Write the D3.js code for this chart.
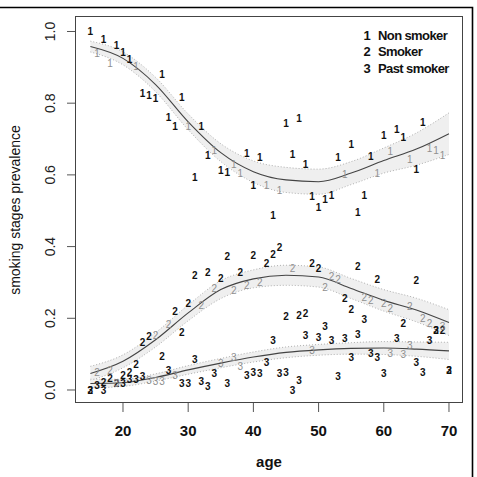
<!DOCTYPE html>
<html><head><meta charset="utf-8">
<script src="https://cdn.jsdelivr.net/npm/d3@7"></script>
<style>body{margin:0;background:#fff}svg{display:block}text{font-family:"Liberation Sans",Arial,sans-serif}</style>
</head><body><svg id="c" width="477" height="477"></svg>
<script>
// ---- data ----
const xTicks = [20,30,40,50,60,70];
const yTicks = [0.0,0.2,0.4,0.6,0.8,1.0];
const yTickLabels = ["0.0","0.2","0.4","0.6","0.8","1.0"];
const legendLabels = ["Non smoker","Smoker","Past smoker"];
const fitAges = [15,20,25,30,35,40,45,50,55,60,65,70];
const fitNon   = [0.958,0.925,0.852,0.748,0.662,0.609,0.586,0.581,0.605,0.640,0.672,0.715];
const bandNon  = [0.015,0.018,0.020,0.022,0.025,0.030,0.035,0.035,0.032,0.035,0.045,0.058];
const fitSmk   = [0.046,0.080,0.140,0.215,0.280,0.310,0.320,0.315,0.283,0.250,0.223,0.188];
const bandSmk  = [0.020,0.018,0.020,0.022,0.025,0.025,0.028,0.028,0.028,0.030,0.033,0.036];
const fitPast  = [0.018,0.020,0.035,0.056,0.075,0.092,0.105,0.112,0.116,0.117,0.114,0.109];
const bandPast = [0.012,0.010,0.010,0.012,0.013,0.014,0.015,0.015,0.016,0.018,0.020,0.024];
const obsNon = [[15,1.0],[17,0.978],[19,0.962],[20,0.942],[21,0.922],[23,0.828],[24,0.823],[25,0.813],[26,0.879],[27,0.761],[28,0.736],[29,0.816],[31,0.593],[32,0.736],[33,0.655],[35,0.612],[36,0.606],[39,0.660],[40,0.572],[41,0.650],[43,0.488],[45,0.744],[46,0.657],[47,0.758],[48,0.628],[49,0.539],[50,0.510],[51,0.532],[52,0.544],[53,0.648],[55,0.685],[56,0.495],[57,0.544],[58,0.651],[60,0.710],[62,0.728],[63,0.705],[65,0.614],[66,0.746]];
const grayNon = [[16,0.939],[18,0.911],[22,0.902],[30,0.736],[34,0.669],[37,0.630],[38,0.603],[42,0.572],[44,0.556],[54,0.600],[59,0.603],[61,0.665],[64,0.642],[67,0.674],[68,0.669],[69,0.655]];
const obsSmk = [[15,0.0],[17,0.021],[18,0.033],[19,0.019],[20,0.042],[21,0.048],[22,0.070],[23,0.132],[24,0.149],[26,0.093],[28,0.218],[29,0.160],[30,0.242],[31,0.321],[33,0.328],[35,0.311],[36,0.372],[38,0.327],[40,0.375],[42,0.353],[43,0.377],[44,0.397],[45,0.205],[47,0.209],[48,0.214],[49,0.353],[50,0.338],[54,0.256],[55,0.225],[56,0.344],[59,0.309],[63,0.186],[65,0.307],[68,0.167],[69,0.165],[70,0.054]];
const graySmk = [[16,0.049],[18,0.054],[25,0.153],[27,0.183],[32,0.237],[34,0.282],[37,0.279],[39,0.291],[41,0.300],[46,0.339],[51,0.285],[52,0.316],[53,0.309],[57,0.257],[58,0.249],[60,0.242],[61,0.228],[64,0.234],[66,0.200],[67,0.186]];
const obsPast = [[15,0.0],[16,0.014],[17,0.0],[20,0.019],[21,0.030],[22,0.030],[23,0.039],[27,0.056],[29,0.019],[30,0.019],[31,0.084],[32,0.023],[33,0.011],[34,0.045],[36,0.019],[39,0.042],[40,0.048],[41,0.045],[42,0.076],[43,0.139],[44,0.045],[45,0.048],[46,0.0],[47,0.028],[48,0.151],[50,0.147],[51,0.177],[52,0.138],[53,0.039],[54,0.144],[55,0.090],[56,0.156],[57,0.198],[58,0.102],[59,0.090],[60,0.047],[62,0.144],[65,0.076],[66,0.048],[67,0.138],[68,0.167],[70,0.054]];
const grayPast = [[19,0.019],[24,0.028],[25,0.025],[26,0.023],[28,0.042],[35,0.073],[37,0.090],[38,0.065],[49,0.110],[61,0.102],[63,0.099],[64,0.123],[69,0.178]];

// ---- drawing ----
const svg = d3.select("#c");
const L=75,R=463,T=16,B=403;
const x = d3.scaleLinear().domain([12.64,72.15]).range([L,R]);
const y = d3.scaleLinear().domain([-0.0363,1.0432]).range([B,T]);

// outer frame
svg.append("path").attr("d","M0,7.5H472.5V477").attr("fill","none").attr("stroke","#000").attr("stroke-width",1.6);

const series = [
  {fit:fitNon, band:bandNon, obs:obsNon, gray:grayNon, ch:"1"},
  {fit:fitSmk, band:bandSmk, obs:obsSmk, gray:graySmk, ch:"2"},
  {fit:fitPast, band:bandPast, obs:obsPast, gray:grayPast, ch:"3"}
];
const curve = d3.curveMonotoneX;
series.forEach(s=>{
  const pts = fitAges.map((a,i)=>({a, v:s.fit[i], h:s.band[i]}));
  svg.append("path").datum(pts)
    .attr("d", d3.area().x(d=>x(d.a)).y0(d=>y(d.v-d.h)).y1(d=>y(d.v+d.h)).curve(curve))
    .attr("fill","#efefef");
  [1,-1].forEach(sg=>{
    svg.append("path").datum(pts)
      .attr("d", d3.line().x(d=>x(d.a)).y(d=>y(d.v+sg*d.h)).curve(curve))
      .attr("fill","none").attr("stroke","#b0b0b0").attr("stroke-width",1).attr("stroke-dasharray","1,2");
  });
});
series.forEach(s=>{
  const pts = fitAges.map((a,i)=>({a, v:s.fit[i]}));
  svg.append("path").datum(pts)
    .attr("d", d3.line().x(d=>x(d.a)).y(d=>y(d.v)).curve(curve))
    .attr("fill","none").attr("stroke","#444").attr("stroke-width",1.1);
});
series.forEach(s=>{
  svg.append("g").selectAll("text").data(s.gray).join("text")
    .attr("x",d=>x(d[0])).attr("y",d=>y(d[1])).attr("dy","0.36em")
    .attr("text-anchor","middle").attr("font-size",10).attr("fill","#8f8f8f").text(s.ch);
  svg.append("g").selectAll("text").data(s.obs).join("text")
    .attr("x",d=>x(d[0])).attr("y",d=>y(d[1])).attr("dy","0.36em")
    .attr("text-anchor","middle").attr("font-size",10).attr("font-weight","bold").attr("fill","#111").text(s.ch);
});

// plot box
svg.append("rect").attr("x",L+0.5).attr("y",T+0.5).attr("width",R-L-1).attr("height",B-T-1)
  .attr("fill","none").attr("stroke","#444").attr("stroke-width",1);

// x axis
const gx = svg.append("g");
gx.selectAll("line").data(xTicks).join("line")
  .attr("x1",d=>x(d)).attr("x2",d=>x(d)).attr("y1",B).attr("y2",B+9).attr("stroke","#555");
gx.selectAll("text").data(xTicks).join("text")
  .attr("x",d=>x(d)).attr("y",435.5).attr("text-anchor","middle").attr("font-size",15)
  .attr("font-weight","bold").attr("fill","#111").text(d=>d);
svg.append("text").attr("x",269).attr("y",467).attr("text-anchor","middle").attr("font-size",15)
  .attr("font-weight","bold").attr("fill","#111").text("age");

// y axis
const gy = svg.append("g");
gy.selectAll("line").data(yTicks).join("line")
  .attr("x1",L-8).attr("x2",L).attr("y1",d=>y(d)).attr("y2",d=>y(d)).attr("stroke","#555");
gy.selectAll("text").data(yTicks).join("text")
  .attr("transform",d=>`translate(55,${y(d)}) rotate(-90)`)
  .attr("text-anchor","middle").attr("font-size",14).attr("fill","#222").text((d,i)=>yTickLabels[i]);
svg.append("text").attr("transform","translate(20,210) rotate(-90)").attr("text-anchor","middle")
  .attr("font-size",14).attr("fill","#111").text("smoking stages prevalence");

// legend
const lg = svg.append("g");
legendLabels.forEach((t,i)=>{
  const yy = 35 + i*16.5;
  lg.append("text").attr("x",367).attr("y",yy).attr("dy","0.36em").attr("text-anchor","middle")
    .attr("font-size",13).attr("font-weight","bold").attr("fill","#111").text(String(i+1));
  lg.append("text").attr("x",378).attr("y",yy).attr("dy","0.36em")
    .attr("font-size",13).attr("font-weight","bold").attr("letter-spacing","-0.6").attr("fill","#111").text(t);
});
</script></body></html>
